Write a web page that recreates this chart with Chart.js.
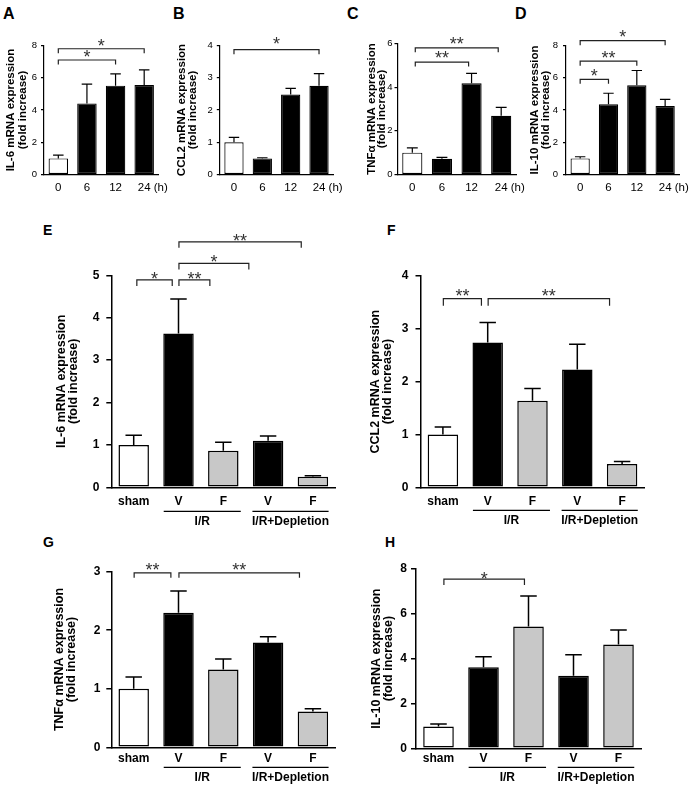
<!DOCTYPE html>
<html>
<head>
<meta charset="utf-8">
<script src="https://cdn.jsdelivr.net/npm/chart.js@4.4.1/dist/chart.umd.min.js"></script>
<style>
  html, body { margin: 0; padding: 0; background: #fff; }
  #fig { position: relative; width: 689px; height: 788px; overflow: hidden; font-family: "Liberation Sans", Arial, sans-serif; }
  #fig canvas { position: absolute; }
  .letter { position: absolute; font-weight: bold; line-height: 1; color: #000; }
</style>
</head>
<body>
<div id="fig">
  <div class="letter" style="left:3px;top:6px;font-size:16px">A</div>
  <div class="letter" style="left:173px;top:6px;font-size:16px">B</div>
  <div class="letter" style="left:347px;top:6px;font-size:16px">C</div>
  <div class="letter" style="left:515px;top:6px;font-size:16px">D</div>
  <div class="letter" style="left:43px;top:223px;font-size:14px">E</div>
  <div class="letter" style="left:387px;top:223px;font-size:14px">F</div>
  <div class="letter" style="left:43px;top:535px;font-size:14px">G</div>
  <div class="letter" style="left:385px;top:535px;font-size:14px">H</div>
</div>
<script>
// ---- data ----
const hours = ['0', '6', '12', '24'];
const treatments = ['sham', 'V', 'F', 'V', 'F'];
const groupLabels = ['I/R', 'I/R+Depletion'];
const groupSpans = [[0.67, 2.39], [2.65, 4.35]];

const timeColors = ['#ffffff', '#000000', '#000000', '#000000'];
const treatColors = ['#ffffff', '#000000', '#c8c8c8', '#000000', '#c8c8c8'];

// time course (A-D): mean and SEM
const il6Time = [1.0, 4.41, 5.51, 5.55];
const il6TimeErr = [0.2, 1.19, 0.73, 0.94];
const ccl2Time = [1.0, 0.5, 2.48, 2.75];
const ccl2TimeErr = [0.15, 0.02, 0.19, 0.38];
const tnfTime = [1.0, 0.72, 4.18, 2.69];
const tnfTimeErr = [0.22, 0.06, 0.45, 0.38];
const il10Time = [1.0, 4.35, 5.53, 4.25];
const il10TimeErr = [0.1, 0.69, 0.92, 0.41];

// treatments (E-H)
const il6Treat = [1.0, 3.63, 0.86, 1.10, 0.25];
const il6TreatErr = [0.23, 0.81, 0.2, 0.11, 0.025];
const ccl2Treat = [1.0, 2.74, 1.64, 2.23, 0.44];
const ccl2TreatErr = [0.14, 0.38, 0.23, 0.48, 0.05];
const tnfTreat = [1.0, 2.30, 1.33, 1.79, 0.61];
const tnfTreatErr = [0.2, 0.37, 0.18, 0.1, 0.05];
const il10Treat = [0.97, 3.62, 5.43, 3.24, 4.63];
const il10TreatErr = [0.11, 0.46, 1.37, 0.93, 0.65];

// significance brackets: [from index, to index, height (y units), label]
const il6TimeSig = [[0, 3, 7.8, '*'], [0, 2, 7.1, '*']];
const ccl2TimeSig = [[0, 3, 3.87, '*']];
const tnfTimeSig = [[0.1, 2.9, 5.8, '**'], [0.1, 1.9, 5.15, '**']];
const il10TimeSig = [[0, 3, 8.3, '*'], [0, 2, 7.03, '**'], [0, 1, 5.9, '*']];
const il6TreatSig = [[0.07, 0.86, 4.89, '*'], [1.01, 1.7, 4.89, '**'], [1.01, 2.57, 5.28, '*'], [1.01, 3.74, 5.79, '**']];
const ccl2TreatSig = [[0.01, 0.86, 3.57, '**'], [1.01, 3.72, 3.57, '**']];
const tnfTreatSig = [[0.01, 0.83, 2.98, '**'], [1.01, 3.7, 2.98, '**']];
const il10TreatSig = [[0.12, 1.91, 7.55, '*']];

const FAMILY = '"Liberation Sans", Arial, sans-serif';
Chart.defaults.font.family = FAMILY;

const panelDecor = {
    id: 'panelDecor',
    afterDatasetsDraw(chart, args, o) {
        const ctx = chart.ctx;
        const xs = chart.scales.x, ys = chart.scales.y, area = chart.chartArea;
        const bars = chart.getDatasetMeta(0).data;
        const vals = chart.data.datasets[0].data;
        ctx.save();

        // error bars (upper only)
        ctx.strokeStyle = '#000';
        ctx.lineWidth = o.lineWidth;
        bars.forEach(function(bar, i) {
            const yTop = ys.getPixelForValue(vals[i] + o.errors[i]);
            const half = bar.width * 0.27;
            ctx.beginPath();
            ctx.moveTo(bar.x, bar.y);
            ctx.lineTo(bar.x, yTop);
            ctx.moveTo(bar.x - half, yTop);
            ctx.lineTo(bar.x + half, yTop);
            ctx.stroke();
        });

        // brackets + stars
        ctx.lineWidth = 1.2;
        ctx.strokeStyle = '#222';
        ctx.fillStyle = '#333';
        ctx.font = o.starSize + 'px ' + FAMILY;
        ctx.textAlign = 'center';
        ctx.textBaseline = 'alphabetic';
        o.brackets.forEach(function(b) {
            const x1 = xs.getPixelForValue(b[0]);
            const x2 = xs.getPixelForValue(b[1]);
            const yy = ys.getPixelForValue(b[2]);
            ctx.beginPath();
            ctx.moveTo(x1, yy + o.drop);
            ctx.lineTo(x1, yy);
            ctx.lineTo(x2, yy);
            ctx.lineTo(x2, yy + o.drop);
            ctx.stroke();
            ctx.fillText(b[3], (x1 + x2) / 2, yy - o.lift + 0.58 * o.starSize);
        });

        ctx.fillStyle = '#000';
        ctx.strokeStyle = '#000';
        // time unit after last tick label
        if (o.unit) {
            const f = xs.options.ticks.font;
            ctx.font = f.size + 'px ' + FAMILY;
            const names = xs.getLabels();
            const last = names[names.length - 1];
            const xEnd = xs.getPixelForValue(names.length - 1) + ctx.measureText(last).width / 2;
            ctx.textAlign = 'left';
            ctx.textBaseline = 'middle';
            ctx.fillText(' ' + o.unit, xEnd, area.bottom + xs.options.ticks.padding + f.size * 0.6);
        }

        // group lines under the treatment labels
        if (o.groups) {
            ctx.lineWidth = 1.2;
            ctx.font = 'bold 12px ' + FAMILY;
            ctx.textAlign = 'center';
            ctx.textBaseline = 'middle';
            const yLine = area.bottom + o.groupGap;
            o.groups.forEach(function(g, k) {
                const x1 = xs.getPixelForValue(g[0]);
                const x2 = xs.getPixelForValue(g[1]);
                ctx.beginPath();
                ctx.moveTo(x1, yLine);
                ctx.lineTo(x2, yLine);
                ctx.stroke();
                ctx.fillText(o.groupNames[k], (x1 + x2) / 2, yLine + o.groupLabelGap);
            });
        }
        ctx.restore();
    }
};

function makePanel(p) {
    const bx = p.box[0], by = p.box[1], bw = p.box[2], bh = p.box[3];
    const left = p.area[0], right = p.area[1], top = p.area[2], bottom = p.area[3];
    const canvas = document.createElement('canvas');
    canvas.width = bw;
    canvas.height = bh;
    canvas.style.left = bx + 'px';
    canvas.style.top = by + 'px';
    document.getElementById('fig').appendChild(canvas);

    const titleLH = p.titleSize * p.titleLH;
    new Chart(canvas, {
        type: 'bar',
        data: {
            labels: p.labels,
            datasets: [{
                data: p.values,
                backgroundColor: p.colors,
                borderColor: '#000',
                borderWidth: p.lw,
                borderSkipped: false,
                barPercentage: 0.68,
                categoryPercentage: 1
            }]
        },
        options: {
            responsive: false,
            animation: false,
            events: [],
            layout: { padding: { left: 0, top: top - by, right: bx + bw - right, bottom: 0 } },
            plugins: {
                legend: { display: false },
                tooltip: { enabled: false },
                panelDecor: {
                    errors: p.errors,
                    brackets: p.brackets,
                    lineWidth: p.lw,
                    starSize: 18,
                    drop: p.drop,
                    lift: p.lift,
                    unit: p.unit,
                    groups: p.groups,
                    groupNames: p.groupNames,
                    groupGap: p.groupGap,
                    groupLabelGap: 10
                }
            },
            scales: {
                x: {
                    grid: { display: false, drawTicks: false },
                    border: { color: '#000', width: p.lw },
                    ticks: { color: '#000', font: p.xFont, padding: p.xPad, maxRotation: 0, autoSkip: false },
                    afterFit: function(s) { s.height = by + bh - bottom; }
                },
                y: {
                    min: 0,
                    max: p.yMax,
                    ticks: { stepSize: p.yStep, color: '#000', font: p.yFont, padding: p.yPad },
                    grid: { drawOnChartArea: false, drawTicks: true, tickLength: p.tickLen, color: '#000', lineWidth: p.lw },
                    border: { color: '#000', width: p.lw },
                    title: {
                        display: true,
                        text: p.title,
                        color: '#000',
                        font: { size: p.titleSize, weight: 'bold', lineHeight: p.titleLH },
                        padding: { top: p.titleX - bx - titleLH / 2, bottom: 0 }
                    },
                    afterFit: function(s) { s.width = left - bx; }
                }
            }
        },
        plugins: [panelDecor]
    });
}

const smallX = { size: 11.5 };
const smallY = { size: 9.5 };
const boldX = { size: 12, weight: 'bold' };
const boldY = { size: 12, weight: 'bold' };

// top row
makePanel({ box: [0, 0, 175, 200], area: [44, 158.5, 45.5, 174.5], labels: hours, values: il6Time, errors: il6TimeErr,
    colors: timeColors, brackets: il6TimeSig, yMax: 8, yStep: 2, title: ['IL-6 mRNA expression', '(fold increase)'],
    titleX: 11, titleSize: 11.5, titleLH: 1.0, lw: 1.2, xFont: smallX, yFont: smallY, xPad: 6.4, yPad: 4, tickLen: 3,
    drop: 4.5, lift: 7, unit: '(h)' });
makePanel({ box: [165, 0, 180, 200], area: [219.8, 333.2, 45.5, 174.5], labels: hours, values: ccl2Time, errors: ccl2TimeErr,
    colors: timeColors, brackets: ccl2TimeSig, yMax: 4, yStep: 1, title: ['CCL2 mRNA expression', '(fold increase)'],
    titleX: 182, titleSize: 11.5, titleLH: 0.96, lw: 1.2, xFont: smallX, yFont: smallY, xPad: 6.4, yPad: 4, tickLen: 3,
    drop: 4.5, lift: 10, unit: '(h)' });
makePanel({ box: [340, 0, 185, 200], area: [397.5, 516, 43.5, 174.5], labels: hours, values: tnfTime, errors: tnfTimeErr,
    colors: timeColors, brackets: tnfTimeSig, yMax: 6, yStep: 2, title: ['TNFα mRNA expression', '(fold increase)'],
    titleX: 371.5, titleSize: 11.5, titleLH: 0.9, lw: 1.2, xFont: smallX, yFont: smallY, xPad: 6.4, yPad: 2, tickLen: 3,
    drop: 4.5, lift: 8, unit: '(h)' });
makePanel({ box: [510, 0, 179, 200], area: [566, 679.3, 45.5, 174.5], labels: hours, values: il10Time, errors: il10TimeErr,
    colors: timeColors, brackets: il10TimeSig, yMax: 8, yStep: 2, title: ['IL-10 mRNA expression', '(fold increase)'],
    titleX: 535, titleSize: 11.5, titleLH: 0.96, lw: 1.2, xFont: smallX, yFont: smallY, xPad: 6.4, yPad: 5, tickLen: 3,
    drop: 4.5, lift: 8, unit: '(h)' });

// bottom panels
makePanel({ box: [0, 215, 345, 315], area: [111.3, 335.3, 275.3, 487.3], labels: treatments, values: il6Treat, errors: il6TreatErr,
    colors: treatColors, brackets: il6TreatSig, yMax: 5, yStep: 1, title: ['IL-6 mRNA expression', '(fold increase)'],
    titleX: 61.7, titleSize: 12.5, titleLH: 0.93, lw: 1.5, xFont: boldX, yFont: boldY, xPad: 7, yPad: 7, tickLen: 5,
    drop: 6, lift: 5.5, groups: groupSpans, groupNames: groupLabels, groupGap: 24 });
makePanel({ box: [345, 215, 344, 315], area: [420.5, 644.5, 276, 487.3], labels: treatments, values: ccl2Treat, errors: ccl2TreatErr,
    colors: treatColors, brackets: ccl2TreatSig, yMax: 4, yStep: 1, title: ['CCL2 mRNA expression', '(fold increase)'],
    titleX: 376, titleSize: 12.5, titleLH: 0.92, lw: 1.5, xFont: boldX, yFont: boldY, xPad: 7, yPad: 7, tickLen: 5,
    drop: 7, lift: 7, groups: groupSpans, groupNames: groupLabels, groupGap: 23 });
makePanel({ box: [0, 530, 345, 258], area: [111.3, 335.3, 571.7, 747.3], labels: treatments, values: tnfTreat, errors: tnfTreatErr,
    colors: treatColors, brackets: tnfTreatSig, yMax: 3, yStep: 1, title: ['TNFα mRNA expression', '(fold increase)'],
    titleX: 60, titleSize: 12.5, titleLH: 0.94, lw: 1.5, xFont: boldX, yFont: boldY, xPad: 4.3, yPad: 6, tickLen: 5,
    drop: 5, lift: 7, groups: groupSpans, groupNames: groupLabels, groupGap: 20 });
makePanel({ box: [345, 530, 344, 258], area: [416, 641, 569, 748.3], labels: treatments, values: il10Treat, errors: il10TreatErr,
    colors: treatColors, brackets: il10TreatSig, yMax: 8, yStep: 2, title: ['IL-10 mRNA expression', '(fold increase)'],
    titleX: 376.7, titleSize: 12.5, titleLH: 0.93, lw: 1.5, xFont: boldX, yFont: boldY, xPad: 3.5, yPad: 4, tickLen: 5,
    drop: 6, lift: 5, groups: groupSpans, groupNames: groupLabels, groupGap: 19 });
</script>
</body>
</html>
